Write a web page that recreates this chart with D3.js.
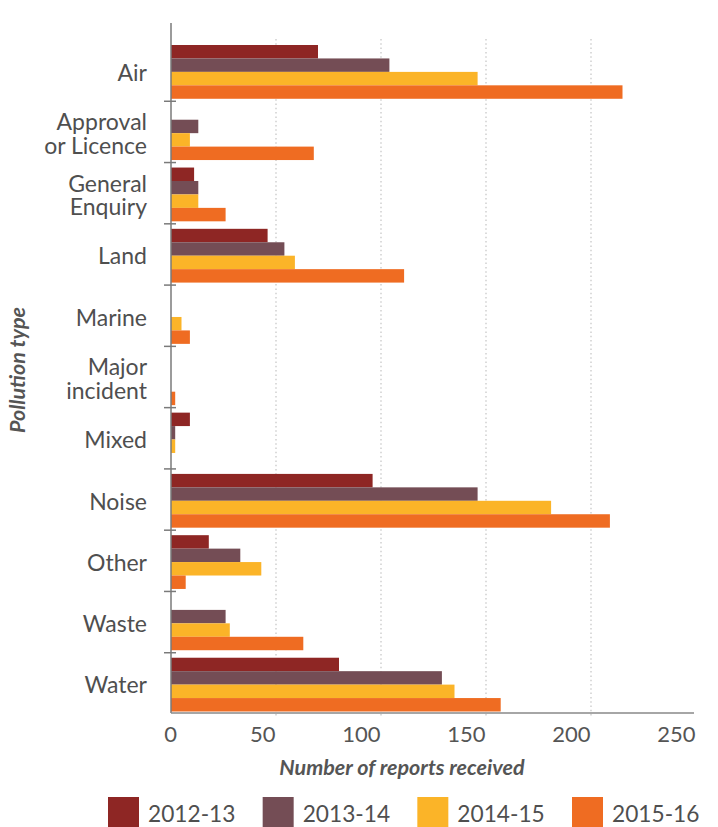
<!DOCTYPE html>
<html>
<head>
<meta charset="utf-8">
<script src="https://cdn.jsdelivr.net/npm/d3@7"></script>
<style>
  html, body { margin: 0; padding: 0; background: #fff; }
  svg { display: block; font-family: Lato, "Open Sans", sans-serif; }
</style>
</head>
<body>
<svg id="chart" width="718" height="827"></svg>
<script>
// Pollution reports by type and financial year
const categories = [
  ["Air"],
  ["Approval", "or Licence"],
  ["General", "Enquiry"],
  ["Land"],
  ["Marine"],
  ["Major", "incident"],
  ["Mixed"],
  ["Noise"],
  ["Other"],
  ["Waste"],
  ["Water"]
];
const years = ["2012-13", "2013-14", "2014-15", "2015-16"];
const colors = ["#8e2624", "#744d55", "#fbb428", "#ef6c22"];

const v2012 = [70, 0, 11, 46, 0, 0, 9, 96, 18, 0, 80];
const v2013 = [104, 13, 13, 54, 0, 0, 2, 146, 33, 26, 129];
const v2014 = [146, 9, 13, 59, 5, 0, 2, 181, 43, 28, 135];
const v2015 = [215, 68, 26, 111, 9, 2, 0, 209, 7, 63, 157];
const seriesValues = [v2012, v2013, v2014, v2015];

const xTicks = [0, 50, 100, 150, 200, 250];
const xTitle = "Number of reports received";
const yTitle = "Pollution type";

const svg = d3.select("#chart");
const plotLeft = 171, plotRight = 696, plotTop = 40, plotBottom = 714;

const x = d3.scaleLinear().domain([0, 250]).range([plotLeft, plotRight]);
const y = d3.scaleBand().domain(d3.range(categories.length)).range([plotTop, plotBottom]).padding(0);
const inner = d3.scaleBand().domain(d3.range(years.length))
  .range([5, y.bandwidth() - 2.5]).padding(0);

// dotted vertical gridlines
svg.append("g").selectAll("line")
  .data(xTicks.filter(t => t > 0 && t < 250))
  .join("line")
  .attr("x1", d => x(d)).attr("x2", d => x(d))
  .attr("y1", plotTop - 1).attr("y2", plotBottom + 4)
  .attr("stroke", "#c4c4c4")
  .attr("stroke-width", 1.2)
  .attr("stroke-dasharray", "1.5,2.8");

// bars
const rows = [];
categories.forEach((c, i) => {
  seriesValues.forEach((vals, s) => rows.push({ cat: i, s, v: vals[i] }));
});
svg.append("g").selectAll("rect")
  .data(rows.filter(d => d.v > 0))
  .join("rect")
  .attr("x", x(0))
  .attr("y", d => y(d.cat) + inner(d.s))
  .attr("width", d => x(d.v) - x(0))
  .attr("height", inner.bandwidth())
  .attr("fill", d => colors[d.s]);

// y axis line and category separators
svg.append("line")
  .attr("x1", plotLeft).attr("x2", plotLeft)
  .attr("y1", 23).attr("y2", plotBottom - 1)
  .attr("stroke", "#7a7a7a").attr("stroke-width", 1.5);
svg.append("g").selectAll("line")
  .data(d3.range(1, categories.length))
  .join("line")
  .attr("x1", plotLeft - 7).attr("x2", plotLeft + 5)
  .attr("y1", d => y(d)).attr("y2", d => y(d))
  .attr("stroke", "#7a7a7a").attr("stroke-width", 1.5);

// x axis line
svg.append("line")
  .attr("x1", plotLeft).attr("x2", plotRight - 2)
  .attr("y1", plotBottom - 1).attr("y2", plotBottom - 1)
  .attr("stroke", "#888").attr("stroke-width", 1.5);

// category labels (one text element per line)
const lineH = 23.3;
const labelLines = [];
categories.forEach((lines, i) => {
  lines.forEach((t, k) => labelLines.push({ i, k, n: lines.length, t }));
});
svg.append("g").selectAll("text")
  .data(labelLines)
  .join("text")
  .attr("text-anchor", "end")
  .attr("fill", "#4f4f4f")
  .attr("font-size", 23)
  .attr("x", plotLeft - 24)
  .attr("y", d => y(d.i) + y.bandwidth() / 2 + 10 + (d.k - (d.n - 1) / 2) * lineH)
  .text(d => d.t);

// x tick labels
const xAxis = d3.axisBottom(x).tickValues(xTicks).tickSize(0).tickPadding(0);
const gx = svg.append("g").attr("transform", `translate(0,${plotBottom})`).call(xAxis);
gx.select(".domain").remove();
gx.selectAll("text")
  .attr("font-family", "Lato, sans-serif")
  .attr("font-size", 22)
  .attr("fill", "#555")
  .attr("dy", null)
  .attr("y", 28)
  .attr("text-anchor", d => d === 0 ? "middle" : "end")
  .attr("dx", -1);

// axis titles
svg.append("text")
  .attr("x", 402).attr("y", 775)
  .attr("text-anchor", "middle")
  .attr("font-size", 21.5).attr("font-weight", "bold").attr("font-style", "italic")
  .attr("fill", "#555")
  .text(xTitle);
svg.append("text")
  .attr("transform", "translate(25,370) rotate(-90)")
  .attr("text-anchor", "middle")
  .attr("font-size", 21.5).attr("font-weight", "bold").attr("font-style", "italic")
  .attr("fill", "#555")
  .text(yTitle);

// legend
const lx = d3.scaleLinear().domain([0, 3]).range([108, 572]);
const lg = svg.append("g").selectAll("g")
  .data(years)
  .join("g")
  .attr("transform", (d, i) => `translate(${lx(i)},797)`);
lg.append("rect")
  .attr("width", 31).attr("height", 30)
  .attr("fill", (d, i) => colors[i]);
lg.append("text")
  .attr("x", 40).attr("y", 25)
  .attr("font-size", 22.7)
  .attr("fill", "#4f4f4f")
  .text(d => d);
</script>
</body>
</html>
